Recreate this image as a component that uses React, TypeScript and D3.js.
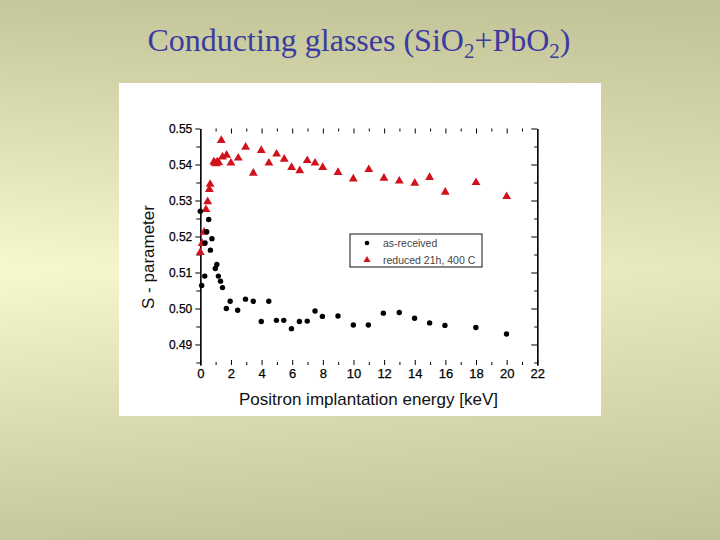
import { useEffect, useRef } from "react"
import * as d3 from "d3"

// as-received sample
const receivedEnergy = [
  0, 0.09, 0.29, 0.31, 0.42, 0.55, 0.66, 0.76, 0.98, 1.08, 1.18, 1.32, 1.45, 1.7, 1.95, 2.44, 2.95, 3.46,
  3.98, 4.47, 4.97, 5.45, 5.95, 6.47, 6.98, 7.49, 7.97, 8.99, 9.99, 10.97, 11.95, 12.99, 13.99, 14.97,
  15.97, 17.99, 19.99,
]
const receivedS = [
  0.527, 0.5064, 0.509, 0.5182, 0.5213, 0.5247, 0.5162, 0.5194, 0.5111, 0.5122, 0.509, 0.5076, 0.5058,
  0.5, 0.502, 0.4995, 0.5026, 0.502, 0.4964, 0.502, 0.4967, 0.4967, 0.4944, 0.4964, 0.4965, 0.4993,
  0.4978, 0.4979, 0.4954, 0.4954, 0.4987, 0.4989, 0.4973, 0.496, 0.4953, 0.4947, 0.4929,
]

// reduced 21h, 400 C
const reducedEnergy = [
  0, 0.12, 0.25, 0.37, 0.48, 0.59, 0.64, 0.88, 0.95, 1.03, 1.1, 1.2, 1.37, 1.45, 1.72, 2.0, 2.48, 2.96,
  3.46, 3.98, 4.48, 4.98, 5.48, 5.96, 6.49, 6.98, 7.49, 7.99, 8.99, 9.99, 11.0, 11.99, 12.99, 14.0, 14.97,
  15.99, 18.0, 20.0,
]
const reducedS = [
  0.5156, 0.5181, 0.5212, 0.5275, 0.5297, 0.5331, 0.5345, 0.5407, 0.5404, 0.5402, 0.5407, 0.5405, 0.5467,
  0.5421, 0.5426, 0.5404, 0.5418, 0.5448, 0.5376, 0.5439, 0.5404, 0.5429, 0.5415, 0.5392, 0.5383, 0.5411,
  0.5404, 0.5392, 0.5378, 0.536, 0.5386, 0.5362, 0.5354, 0.5348, 0.5364, 0.5323, 0.535, 0.5311,
]

const xTicks = [0, 2, 4, 6, 8, 10, 12, 14, 16, 18, 20, 22]
const xMinorTicks = [1, 3, 5, 7, 9, 11, 13, 15, 17, 19, 21]
const yTicks = [0.49, 0.5, 0.51, 0.52, 0.53, 0.54, 0.55]
const yMinorTicks = [0.485, 0.495, 0.505, 0.515, 0.525, 0.535, 0.545]
const legendLabels = ["as-received", "reduced 21h, 400 C"]

export default function App() {
  const svgRef = useRef<SVGSVGElement>(null)

  useEffect(() => {
    if (!svgRef.current) return
    const svg = d3.select(svgRef.current)
    svg.selectAll("*").remove()

    // background
    const defs = svg.append("defs")
    const bg = defs.append("linearGradient").attr("id", "bg").attr("x1", 0).attr("y1", 0).attr("x2", 0).attr("y2", 1)
    bg.append("stop").attr("offset", "0%").attr("stop-color", "#c6c69b")
    bg.append("stop").attr("offset", "50%").attr("stop-color", "#f8f8cd")
    bg.append("stop").attr("offset", "100%").attr("stop-color", "#c7c79e")
    const side = defs.append("linearGradient").attr("id", "side").attr("x1", 0).attr("y1", 0).attr("x2", 1).attr("y2", 0)
    side.append("stop").attr("offset", "0%").attr("stop-color", "#b4b48c").attr("stop-opacity", 0)
    side.append("stop").attr("offset", "100%").attr("stop-color", "#b4b48c").attr("stop-opacity", 0.25)
    svg.append("rect").attr("width", 720).attr("height", 540).attr("fill", "url(#bg)")
    svg.append("rect").attr("width", 720).attr("height", 540).attr("fill", "url(#side)")

    // title
    const title = svg
      .append("text")
      .attr("x", 359)
      .attr("y", 51)
      .attr("text-anchor", "middle")
      .attr("font-family", "'Liberation Serif', 'Times New Roman', serif")
      .attr("font-size", 32)
      .attr("fill", "#3b3ba0")
    title.append("tspan").text("Conducting glasses (SiO")
    title.append("tspan").attr("dy", 7).attr("font-size", 21).text("2")
    title.append("tspan").attr("dy", -7).text("+PbO")
    title.append("tspan").attr("dy", 7).attr("font-size", 21).text("2")
    title.append("tspan").attr("dy", -7).text(")")

    // white panel
    svg.append("rect").attr("x", 119).attr("y", 83).attr("width", 482).attr("height", 333).attr("fill", "#fff")

    const x = d3.scaleLinear().domain([0, 22]).range([200.3, 537.3])
    const y = d3.scaleLinear().domain([0.4843, 0.55]).range([365, 128.5])
    const font = "'Liberation Sans', Arial, sans-serif"

    const styleAxis = (g: any) => {
      g.attr("color", "#000").attr("font-family", font)
      g.selectAll("line").attr("stroke-width", 1)
      g.select(".domain").attr("stroke-width", 1.2)
    }

    // left axis
    svg
      .append("g")
      .attr("transform", `translate(${x(0)},0)`)
      .call(d3.axisLeft(y).tickValues(yMinorTicks).tickSize(4).tickSizeOuter(0).tickFormat(() => ""))
      .call(styleAxis)
    svg
      .append("g")
      .attr("transform", `translate(${x(0)},0)`)
      .call(d3.axisLeft(y).tickValues(yTicks).tickSize(5).tickSizeOuter(0).tickPadding(3).tickFormat(d3.format(".2f")))
      .call(styleAxis)
      .call((g) => g.selectAll("text").attr("font-size", 12).attr("stroke", "#000").attr("stroke-width", 0.25))

    // right axis (ticks inward)
    svg
      .append("g")
      .attr("transform", `translate(${x(22)},0)`)
      .call(d3.axisLeft(y).tickValues(yTicks).tickSize(6).tickSizeOuter(0).tickFormat(() => ""))
      .call(styleAxis)
    svg
      .append("g")
      .attr("transform", `translate(${x(22)},0)`)
      .call(d3.axisLeft(y).tickValues(yMinorTicks).tickSize(3).tickSizeOuter(0).tickFormat(() => ""))
      .call(styleAxis)

    // top ticks (no line)
    svg
      .append("g")
      .attr("transform", `translate(0,${y(0.55)})`)
      .call(d3.axisBottom(x).tickValues(xTicks.slice(1, -1)).tickSize(5).tickFormat(() => ""))
      .call(styleAxis)
      .call((g) => g.select(".domain").remove())
    svg
      .append("g")
      .attr("transform", `translate(0,${y(0.55)})`)
      .call(d3.axisBottom(x).tickValues(xMinorTicks).tickSize(3).tickFormat(() => ""))
      .call(styleAxis)
      .call((g) => g.select(".domain").remove())

    // bottom ticks (inward, no line) + labels
    svg
      .append("g")
      .attr("transform", `translate(0,${y.range()[0]})`)
      .call(d3.axisTop(x).tickValues(xTicks).tickSize(5).tickFormat(() => ""))
      .call(styleAxis)
      .call((g) => g.select(".domain").remove())
    svg
      .append("g")
      .attr("transform", `translate(0,${y.range()[0]})`)
      .call(d3.axisTop(x).tickValues(xMinorTicks).tickSize(3).tickFormat(() => ""))
      .call(styleAxis)
      .call((g) => g.select(".domain").remove())
    svg
      .append("g")
      .attr("transform", `translate(0,${y.range()[0]})`)
      .call(d3.axisBottom(x).tickValues(xTicks).tickSize(0).tickPadding(4).tickFormat(d3.format("d")))
      .call(styleAxis)
      .call((g) => g.select(".domain").remove())
      .call((g) => g.selectAll("text").attr("font-size", 13).attr("stroke", "#000").attr("stroke-width", 0.25))

    // axis titles
    svg
      .append("text")
      .attr("x", 368.5)
      .attr("y", 405)
      .attr("text-anchor", "middle")
      .attr("font-family", font)
      .attr("font-size", 17)
      .attr("fill", "#111")
      .text("Positron implantation energy [keV]")
    svg
      .append("text")
      .attr("transform", "translate(154,257) rotate(-90)")
      .attr("text-anchor", "middle")
      .attr("font-family", font)
      .attr("font-size", 17)
      .attr("fill", "#111")
      .text("S - parameter")

    // data
    const tri = d3.symbol().type(d3.symbolTriangle).size(34)
    svg
      .append("g")
      .selectAll("path")
      .data(reducedEnergy.map((e, i) => [e, reducedS[i]]))
      .join("path")
      .attr("d", tri)
      .attr("transform", (d) => `translate(${x(d[0])},${y(d[1])})`)
      .attr("fill", "#d0121c")

    svg
      .append("g")
      .selectAll("circle")
      .data(receivedEnergy.map((e, i) => [e, receivedS[i]]))
      .join("circle")
      .attr("cx", (d) => x(d[0]))
      .attr("cy", (d) => y(d[1]))
      .attr("r", 2.7)
      .attr("fill", "#000")

    // legend
    const lg = svg.append("g").attr("transform", "translate(350,234)")
    lg.append("rect").attr("width", 132).attr("height", 33).attr("fill", "#fff").attr("stroke", "#111").attr("stroke-width", 1)
    lg.append("circle").attr("cx", 17).attr("cy", 9).attr("r", 2.3).attr("fill", "#000")
    lg.append("path").attr("d", d3.symbol().type(d3.symbolTriangle).size(22)).attr("transform", "translate(17,26)").attr("fill", "#d0121c")
    lg
      .selectAll("text")
      .data(legendLabels)
      .join("text")
      .attr("x", 33)
      .attr("y", (_, i) => 9 + i * 17)
      .attr("dy", "0.35em")
      .attr("font-family", font)
      .attr("font-size", 10.5)
      .attr("fill", "#444")
      .text((d) => d)
  }, [])

  return (
    <div style={{ position: "fixed", left: 0, top: 0 }}>
      <svg ref={svgRef} width={720} height={540} style={{ display: "block" }} />
    </div>
  )
}
